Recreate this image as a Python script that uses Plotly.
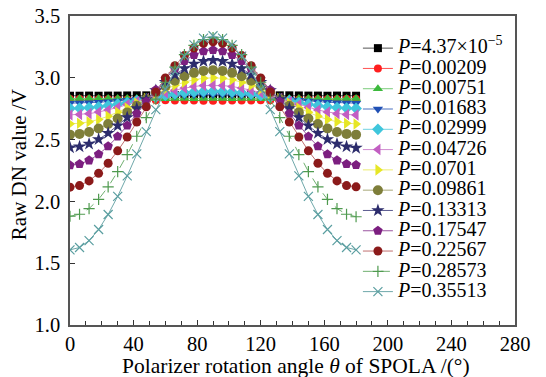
import plotly.graph_objects as go

theta = [0, 6, 12, 18, 24, 30, 36, 42, 48, 54, 60, 66, 72, 78, 84, 90,
         96, 102, 108, 114, 120, 126, 132, 138, 144, 150, 156, 162, 168, 174, 180]

labels = ["<i>P</i>=4.37×10<sup>−5</sup>", "<i>P</i>=0.00209", "<i>P</i>=0.00751",
          "<i>P</i>=0.01683", "<i>P</i>=0.02999", "<i>P</i>=0.04726", "<i>P</i>=0.0701",
          "<i>P</i>=0.09861", "<i>P</i>=0.13313", "<i>P</i>=0.17547", "<i>P</i>=0.22567",
          "<i>P</i>=0.28573", "<i>P</i>=0.35513"]

x_title = "Polarizer rotation angle <i>θ</i> of SPOLA /(°)"
y_title = "Raw DN value /V"

v_p0 = [2.855, 2.855, 2.856, 2.855, 2.856, 2.856, 2.857, 2.858, 2.858, 2.859, 2.859, 2.860, 2.860, 2.860, 2.860, 2.860,
        2.860, 2.860, 2.860, 2.860, 2.859, 2.859, 2.858, 2.858, 2.857, 2.856, 2.856, 2.855, 2.856, 2.855, 2.855]
v_p1 = [2.828, 2.828, 2.827, 2.827, 2.826, 2.825, 2.824, 2.822, 2.821, 2.819, 2.818, 2.817, 2.816, 2.816, 2.815, 2.815,
        2.815, 2.816, 2.816, 2.817, 2.818, 2.819, 2.821, 2.822, 2.824, 2.825, 2.826, 2.827, 2.827, 2.828, 2.828]
v_p2 = [2.832, 2.833, 2.832, 2.833, 2.832, 2.832, 2.833, 2.833, 2.832, 2.832, 2.831, 2.832, 2.832, 2.831, 2.832, 2.832,
        2.832, 2.831, 2.832, 2.832, 2.831, 2.832, 2.832, 2.833, 2.833, 2.832, 2.832, 2.833, 2.832, 2.833, 2.832]
v_p3 = [2.795, 2.796, 2.798, 2.802, 2.807, 2.813, 2.819, 2.826, 2.834, 2.841, 2.848, 2.854, 2.858, 2.862, 2.864, 2.865,
        2.864, 2.862, 2.858, 2.854, 2.848, 2.841, 2.834, 2.826, 2.819, 2.813, 2.807, 2.802, 2.798, 2.796, 2.795]
v_p4 = [2.752, 2.754, 2.758, 2.765, 2.775, 2.787, 2.800, 2.815, 2.829, 2.844, 2.857, 2.869, 2.879, 2.886, 2.890, 2.892,
        2.890, 2.886, 2.879, 2.869, 2.857, 2.844, 2.829, 2.815, 2.800, 2.787, 2.775, 2.765, 2.758, 2.754, 2.752]
v_p5 = [2.700, 2.703, 2.710, 2.723, 2.740, 2.760, 2.783, 2.808, 2.833, 2.857, 2.880, 2.900, 2.917, 2.930, 2.937, 2.940,
        2.937, 2.930, 2.917, 2.900, 2.880, 2.857, 2.833, 2.808, 2.783, 2.760, 2.740, 2.723, 2.710, 2.703, 2.700]
v_p6 = [2.628, 2.632, 2.644, 2.663, 2.689, 2.721, 2.756, 2.795, 2.833, 2.872, 2.907, 2.939, 2.965, 2.984, 2.996, 3.000,
        2.996, 2.984, 2.965, 2.939, 2.907, 2.872, 2.833, 2.795, 2.756, 2.721, 2.689, 2.663, 2.644, 2.632, 2.626]
v_p7 = [2.540, 2.546, 2.562, 2.590, 2.626, 2.671, 2.720, 2.774, 2.828, 2.882, 2.932, 2.976, 3.012, 3.040, 3.056, 3.062,
        3.056, 3.040, 3.012, 2.976, 2.932, 2.882, 2.828, 2.774, 2.720, 2.671, 2.626, 2.590, 2.562, 2.546, 2.540]
v_p8 = [2.435, 2.443, 2.465, 2.502, 2.552, 2.612, 2.679, 2.752, 2.825, 2.898, 2.965, 3.025, 3.075, 3.112, 3.134, 3.142,
        3.134, 3.112, 3.075, 3.025, 2.965, 2.898, 2.825, 2.752, 2.679, 2.612, 2.552, 2.502, 2.465, 2.443, 2.432]
v_p9 = [2.292, 2.302, 2.332, 2.381, 2.446, 2.525, 2.614, 2.710, 2.807, 2.903, 2.992, 3.071, 3.136, 3.185, 3.215, 3.225,
        3.215, 3.185, 3.136, 3.071, 2.992, 2.903, 2.807, 2.710, 2.614, 2.525, 2.446, 2.381, 2.332, 2.302, 2.294]
v_p10 = [2.115, 2.128, 2.166, 2.227, 2.309, 2.409, 2.521, 2.642, 2.765, 2.886, 2.998, 3.098, 3.180, 3.241, 3.279, 3.292,
         3.279, 3.241, 3.180, 3.098, 2.998, 2.886, 2.765, 2.642, 2.521, 2.409, 2.309, 2.227, 2.166, 2.128, 2.118]
v_p11 = [1.880, 1.896, 1.942, 2.017, 2.118, 2.241, 2.379, 2.527, 2.678, 2.827, 2.964, 3.087, 3.188, 3.263, 3.309, 3.325,
         3.309, 3.263, 3.188, 3.087, 2.964, 2.827, 2.678, 2.527, 2.379, 2.241, 2.118, 2.017, 1.942, 1.896, 1.876]
v_p12 = [1.608, 1.627, 1.683, 1.773, 1.894, 2.041, 2.206, 2.384, 2.564, 2.743, 2.907, 3.054, 3.176, 3.266, 3.321, 3.340,
         3.321, 3.266, 3.176, 3.054, 2.907, 2.743, 2.564, 2.384, 2.206, 2.041, 1.894, 1.773, 1.683, 1.627, 1.608]

series = [v_p0, v_p1, v_p2, v_p3, v_p4, v_p5, v_p6, v_p7, v_p8, v_p9, v_p10, v_p11, v_p12]

styles = [
    dict(symbol="square", size=8, color="#000000", line="#555555", dash="solid"),
    dict(symbol="circle", size=8, color="#FF1E1E", line="#FF5050", dash="solid"),
    dict(symbol="triangle-up", size=9, color="#3CB93C", line="#7ACB7A", dash="solid"),
    dict(symbol="triangle-down", size=9, color="#1F4FB4", line="#4A70C0", dash="solid"),
    dict(symbol="diamond", size=9, color="#3FC6DC", line="#70D2E2", dash="solid"),
    dict(symbol="triangle-left", size=10, color="#C25EC2", line="#D08CD0", dash="solid"),
    dict(symbol="triangle-right", size=10, color="#E6E625", line="#ECEC70", dash="solid"),
    dict(symbol="circle", size=10, color="#7E7E3A", line="#A8A878", dash="solid"),
    dict(symbol="star", size=10, color="#2C2C6C", line="#5A5A90", dash="solid"),
    dict(symbol="pentagon", size=10, color="#7C1F80", line="#9A55A0", dash="solid"),
    dict(symbol="circle", size=9, color="#8B1A1A", line="#C07070", dash="solid"),
    dict(symbol="cross-thin", size=8, color="#4F9A4F", line="#6FAF6F", dash="dash"),
    dict(symbol="x-thin", size=9, color="#5A9EA0", line="#6FA8AA", dash="solid"),
]

fig = go.Figure()
for lab, vals, st in zip(labels, series, styles):
    thin = st["symbol"].endswith("thin")
    fig.add_trace(go.Scatter(
        x=theta, y=vals, mode="lines+markers",
        name='<span style="font-size:20px">' + lab + "</span>",
        line=dict(color=st["line"], width=1, dash=st["dash"]),
        marker=dict(symbol=st["symbol"], size=st["size"], color=st["color"],
                    line=dict(color=st["color"], width=1.2 if thin else 0)),
    ))

axis_common = dict(showline=True, linecolor="#555555", linewidth=1.5, mirror=True,
                   showgrid=False, zeroline=False, ticks="inside", tickcolor="#333333",
                   automargin=False,
                   tickfont=dict(family="Liberation Serif", size=20.5, color="black"))

fig.update_layout(
    width=546, height=377,
    margin=dict(l=70, r=31, t=16, b=52),
    paper_bgcolor="white", plot_bgcolor="white",
    font=dict(family="Liberation Serif", color="black"),
    xaxis=dict(range=[0, 280], dtick=40, tick0=0, ticklen=5,
               minor=dict(dtick=10, ticks="inside", ticklen=4, tickcolor="#333333"),
               **axis_common),
    yaxis=dict(range=[1.0, 3.5], dtick=0.5, tick0=1.0, ticklen=5, tickformat=".1f",
               ticklabelstandoff=4,
               **axis_common),
    legend=dict(x=0.647, y=0.945, xanchor="left", yanchor="top",
                bgcolor="rgba(0,0,0,0)", font=dict(family="Liberation Serif", size=13.3, color="black"),
                tracegroupgap=0, itemwidth=30),
    showlegend=True,
    annotations=[
        dict(text=x_title, xref="paper", yref="paper", x=0.508, y=-0.132,
             xanchor="center", yanchor="middle", showarrow=False,
             font=dict(family="Liberation Serif", size=21.5, color="black")),
        dict(text=y_title, xref="paper", yref="paper", x=-0.115, y=0.52,
             xanchor="center", yanchor="middle", showarrow=False, textangle=-90,
             font=dict(family="Liberation Serif", size=21, color="black")),
    ],
)

fig.write_html("out.html", config={"displayModeBar": False},
               post_script="document.body.style.margin='0';")
